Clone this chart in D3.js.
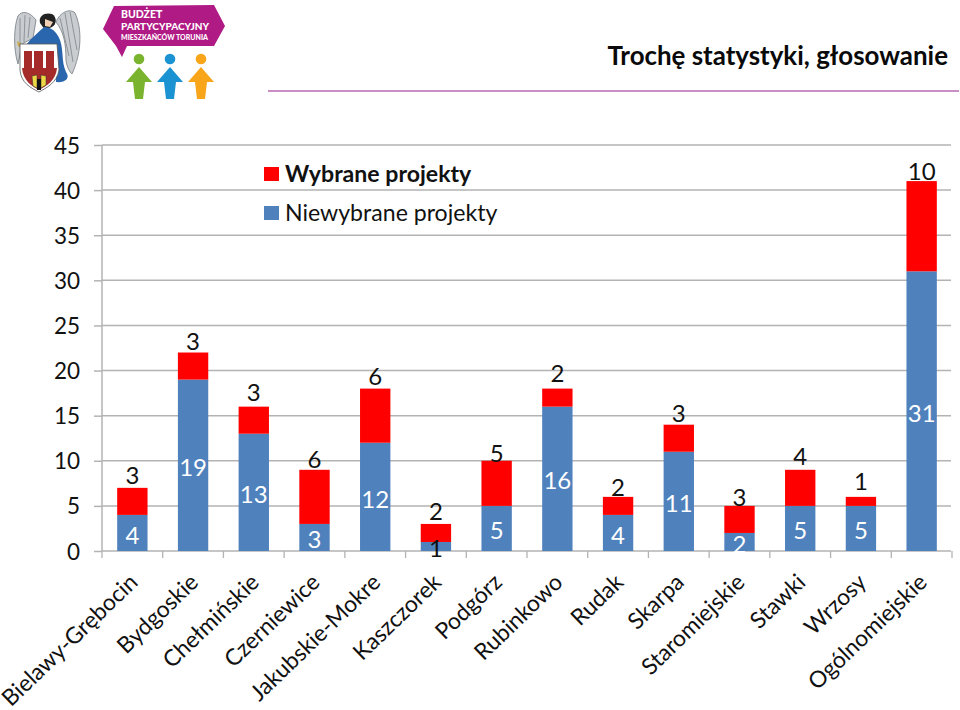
<!DOCTYPE html>
<html><head><meta charset="utf-8">
<script src="https://cdn.jsdelivr.net/npm/d3@7/dist/d3.min.js"></script>
<style>html,body{margin:0;padding:0;background:#fff}svg{display:block}text{font-family:Lato,"Open Sans",sans-serif}</style>
</head><body><svg id="c" width="960" height="710"></svg>
<script>
const categories=["Bielawy-Grębocin","Bydgoskie","Chełmińskie","Czerniewice","Jakubskie-Mokre","Kaszczorek","Podgórz","Rubinkowo","Rudak","Skarpa","Staromiejskie","Stawki","Wrzosy","Ogólnomiejskie"];
const niewybrane=[4,19,13,3,12,1,5,16,4,11,2,5,5,31];
const wybrane=[3,3,3,6,6,2,5,2,2,3,3,4,1,10];
const yTicks=[0,5,10,15,20,25,30,35,40,45];
const legendLabels=["Wybrane projekty","Niewybrane projekty"];
const titleText="Trochę statystyki, głosowanie";
// hand-placed label gaps above each stack in the original
const redLabelGap=[12,11,14,10,12,13,7,15,10,11,9,13,16,10];

const svg=d3.select("#c");
const BLUE="#4f81bd",RED="#ff0000",GRID="#b3b3b3",INK="#111";
const x=d3.scaleBand().domain(categories).range([102,952]).paddingInner(0.5).paddingOuter(0.25);
const y=d3.scaleLinear().domain([0,45]).range([551,145]);

// header
drawCrest(svg.append("g"));
drawLogo(svg.append("g"));
svg.append("text").attr("x",948).attr("y",65).attr("text-anchor","end").attr("font-size",25.9).attr("font-weight",700).attr("fill","#0a0a0a").text(titleText);
svg.append("line").attr("x1",268).attr("x2",959).attr("y1",91).attr("y2",91).attr("stroke","#b868b4").attr("stroke-width",1.6);

// grid + y axis
const gy=svg.append("g").attr("transform","translate(102,0)").call(d3.axisLeft(y).tickValues(yTicks).tickSize(8).tickPadding(14));
gy.select(".domain").attr("stroke",GRID).attr("stroke-width",1.5).attr("d","M0,145V551");
gy.selectAll("line").attr("stroke",GRID).attr("stroke-width",1.5);
gy.selectAll("text").attr("font-size",22.5).attr("fill",INK).attr("font-family","Lato").attr("dy","0.36em");
svg.append("g").selectAll("line").data(yTicks).join("line").attr("x1",102).attr("x2",951).attr("y1",d=>y(d)).attr("y2",d=>y(d)).attr("stroke",GRID).attr("stroke-width",1.5);

// x axis ticks
const step=x.step();
svg.append("g").selectAll("line").data(d3.range(15)).join("line")
 .attr("x1",i=>102+i*step).attr("x2",i=>102+i*step).attr("y1",551).attr("y2",558).attr("stroke",GRID).attr("stroke-width",1.3);

// bars
const bars=svg.append("g");
bars.selectAll(".b").data(categories).join("rect").attr("x",d=>x(d)).attr("width",x.bandwidth())
 .attr("y",(d,i)=>y(niewybrane[i])).attr("height",(d,i)=>y(0)-y(niewybrane[i])).attr("fill",BLUE);
bars.selectAll(".r").data(categories).join("rect").attr("class","r").attr("x",d=>x(d)).attr("width",x.bandwidth())
 .attr("y",(d,i)=>y(niewybrane[i]+wybrane[i])).attr("height",(d,i)=>y(niewybrane[i])-y(niewybrane[i]+wybrane[i])).attr("fill",RED);

// data labels
const lab=svg.append("g").attr("text-anchor","middle").attr("font-size",24);
lab.selectAll(".n").data(categories).join("text").attr("x",d=>x(d)+x.bandwidth()/2)
 .attr("y",(d,i)=>y(niewybrane[i]/2)+2).attr("dy","0.36em")
 .attr("fill",(d,i)=>niewybrane[i]<2?INK:"#fff").text((d,i)=>niewybrane[i]);
lab.selectAll(".w").data(categories).join("text").attr("class","w").attr("x",d=>x(d)+x.bandwidth()/2)
 .attr("y",(d,i)=>y(niewybrane[i]+wybrane[i])-redLabelGap[i]).attr("dy","0.36em")
 .attr("fill",INK).text((d,i)=>wybrane[i]);

// category labels
svg.append("g").selectAll("text").data(categories).join("text").attr("text-anchor","end").attr("font-size",22.8).attr("fill",INK)
 .attr("transform",d=>`translate(${x(d)+x.bandwidth()/2+1},578) rotate(-44)`).attr("dy","0.36em").text(d=>d);

// legend
const lg=svg.append("g");
[RED,BLUE].forEach((c,i)=>{
 const ly=174+i*39;
 lg.append("rect").attr("x",264).attr("y",ly-7).attr("width",15).attr("height",14).attr("fill",c);
 lg.append("text").attr("x",285).attr("y",ly).attr("dy","0.36em").attr("font-size",23.1).attr("font-weight",i?400:700).attr("fill",INK).text(legendLabels[i]);
});

function drawCrest(g){
 const wing=(d)=>g.append("path").attr("d",d).attr("fill","#c9cdd0").attr("stroke","#8a9096").attr("stroke-width",1);
 wing("M36,20 C30,12 22,10 18,16 C14,26 13,48 18,64 L22,44 L33,38 Z");
 wing("M56,22 C60,12 70,8 75,13 C82,28 82,52 72,74 C70,72 67,68 66,60 C66,44 64,32 56,22Z");
 [[20,18,20,46],[25,15,24,42],[30,17,28,38],[65,13,73,62],[70,12,77,50],[60,18,69,56]].forEach(f=>
  g.append("line").attr("x1",f[0]).attr("y1",f[1]).attr("x2",f[2]).attr("y2",f[3]).attr("stroke","#868c92").attr("stroke-width",.9));
 // head
 g.append("path").attr("d","M40,23 C38,15 46,12 52,14 C57,17 57,24 52,27 L45,30 Z").attr("fill","#222");
 g.append("path").attr("d","M45,19 L53,22 L50,27 L45,26 Z").attr("fill","#f1cfb4");
 // body
 g.append("path").attr("d","M44,27 C50,27 56,30 60,40 C64,52 61,60 66,72 C71,79 64,83 56,82 L53,46 L26,45 C31,38 38,33 44,27 Z").attr("fill","#2a66ae");
 g.append("path").attr("d","M17,41 L27,47 L24,50 L18,46 Z").attr("fill","#c9a94a");
 // shield
 g.append("path").attr("d","M20,44 L57,44 L59,70 C57,83 46,88 39,92 C31,88 21,83 20,70 Z").attr("fill","#fff").attr("stroke","#555").attr("stroke-width",.8);
 g.append("path").attr("d","M22,68 L57,68 C56,81 46,86 39,90 C32,86 23,81 22,68 Z").attr("fill","#a52b2b");
 [[24,8],[34,9],[46,8]].forEach(([a,w])=>g.append("rect").attr("x",a).attr("y",51).attr("width",w).attr("height",20).attr("fill","#a52b2b"));
 g.append("path").attr("d","M32,76 L37,75 L37,88 L33,86 Z M41,75 L46,76 L46,85 L41,88 Z").attr("fill","#ecd844").attr("stroke","#333").attr("stroke-width",.5);
 g.append("rect").attr("x",37).attr("y",79).attr("width",4).attr("height",11).attr("fill","#111");
}
function drawLogo(g){
 g.append("path").attr("d","M103,29 L114,6 L214,5 L225,26 L214,46 L127,46 L122,57 L116,46 Z").attr("fill","#b01a84");
 const t=g.append("g").attr("fill","#fff").attr("font-weight",900);
 t.append("text").attr("x",121).attr("y",18).attr("font-size",10.5).text("BUDŻET");
 t.append("text").attr("x",121).attr("y",30).attr("font-size",10).text("PARTYCYPACYJNY");
 t.append("text").attr("x",121).attr("y",40).attr("font-size",7).text("MIESZKAŃCÓW TORUNIA");
 [[139,"#7ab32e"],[170,"#1b92d1"],[201,"#f9a51a"]].forEach(([cx,c])=>{
  g.append("circle").attr("cx",cx).attr("cy",59).attr("r",5.3).attr("fill",c);
  g.append("path").attr("d",`M${cx},67 L${cx+13},82 L${cx+6},82 L${cx+4},99 L${cx-4},99 L${cx-6},82 L${cx-13},82 Z`).attr("fill",c);
 });
}
</script></body></html>
